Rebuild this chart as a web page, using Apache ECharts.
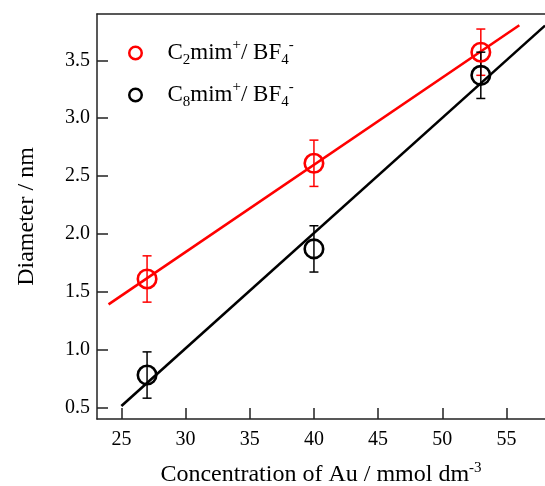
<!DOCTYPE html>
<html>
<head>
<meta charset="utf-8">
<script src="https://cdn.jsdelivr.net/npm/echarts@6/dist/echarts.min.js"></script>
<style>
html,body{margin:0;padding:0;background:#fff;}
#chart{width:545px;height:486px;}
</style>
</head>
<body>
<div id="chart"></div>
<script>
// ---- data ----
const xTicks = [25, 30, 35, 40, 45, 50, 55];
const yTicks = [0.5, 1.0, 1.5, 2.0, 2.5, 3.0, 3.5];
const conc = [27, 40, 53];
const diamC2 = [1.61, 2.61, 3.57];
const diamC8 = [0.78, 1.87, 3.37];
const errC2 = [0.2, 0.2, 0.2];
const errC8 = [0.2, 0.2, 0.2];
const fitRangeC2 = [24, 56];
const fitRangeC8 = [25, 58];
const seriesNames = ['C2mim+/ BF4-', 'C8mim+/ BF4-'];
const legendLabels = ['C{sub|2}mim{sup|+}/ BF{sub|4}{sup|-}', 'C{sub|8}mim{sup|+}/ BF{sub|4}{sup|-}'];
const xTitle = 'Concentration of Au / mmol dm{sup|-3}';
const yTitle = 'Diameter / nm';

const RED = '#ff0000';
const BLACK = '#000000';
const FONT = 'Liberation Serif';

function fit(xs, ys) {
  const n = xs.length;
  const mx = xs.reduce((a, b) => a + b, 0) / n;
  const my = ys.reduce((a, b) => a + b, 0) / n;
  let sxy = 0, sxx = 0;
  for (let i = 0; i < n; i++) { sxy += (xs[i] - mx) * (ys[i] - my); sxx += (xs[i] - mx) ** 2; }
  const k = sxy / sxx;
  return x => my + k * (x - mx);
}
const fC2 = fit(conc, diamC2);
const fC8 = fit(conc, diamC8);
const lineC2 = fitRangeC2.map(x => [x, fC2(x)]);
const lineC8 = fitRangeC8.map(x => [x, fC8(x)]);

function errData(xs, ys, es) { return xs.map((x, i) => [x, ys[i] - es[i], ys[i] + es[i]]); }

function errRender(color) {
  return function (params, api) {
    const lo = api.coord([api.value(0), api.value(1)]);
    const hi = api.coord([api.value(0), api.value(2)]);
    const w = 4.5;
    const st = { stroke: color, lineWidth: 1.5 };
    return {
      type: 'group',
      children: [
        { type: 'line', shape: { x1: lo[0], y1: lo[1], x2: hi[0], y2: hi[1] }, style: st },
        { type: 'line', shape: { x1: lo[0] - w, y1: lo[1], x2: lo[0] + w, y2: lo[1] }, style: st },
        { type: 'line', shape: { x1: hi[0] - w, y1: hi[1], x2: hi[0] + w, y2: hi[1] }, style: st }
      ]
    };
  };
}

const chart = echarts.init(document.getElementById('chart'), null, { renderer: 'canvas' });
const axisLine = { show: true, lineStyle: { color: '#222', width: 1.5 } };

chart.setOption({
  animation: false,
  backgroundColor: '#fff',
  textStyle: { fontFamily: FONT },
  grid: { left: 97, right: 0, top: 14, bottom: 67, containLabel: false, outerBoundsMode: 'none' },
  legend: {
    orient: 'vertical',
    left: 128,
    top: 38,
    padding: 0,
    itemGap: 12,
    itemWidth: 14,
    itemHeight: 12.5,
    selectedMode: false,
    data: [
      { name: seriesNames[0], icon: 'circle', itemStyle: { color: 'rgba(0,0,0,0)', borderColor: RED, borderWidth: 2.5 } },
      { name: seriesNames[1], icon: 'circle', itemStyle: { color: 'rgba(0,0,0,0)', borderColor: BLACK, borderWidth: 2.5 } }
    ],
    formatter: name => legendLabels[seriesNames.indexOf(name)],
    textStyle: {
      fontFamily: FONT, fontSize: 23, lineHeight: 30, color: '#000',
      padding: [0, 0, 0, 20],
      rich: {
        sub: { fontFamily: FONT, fontSize: 15, lineHeight: 16, verticalAlign: 'bottom', color: '#000' },
        sup: { fontFamily: FONT, fontSize: 15, lineHeight: 16, verticalAlign: 'top', color: '#000' }
      }
    }
  },
  xAxis: [{
    type: 'value',
    min: 23.1,
    max: 58,
    position: 'bottom',
    axisLine: axisLine,
    axisTick: { show: true, inside: true, length: 11, customValues: xTicks, lineStyle: { color: '#222', width: 1.5 } },
    axisLabel: { customValues: xTicks, margin: 11, fontFamily: FONT, fontSize: 20, color: '#000' },
    splitLine: { show: false },
    name: xTitle,
    nameLocation: 'middle',
    nameGap: 42,
    nameTextStyle: {
      fontFamily: FONT, fontSize: 24, lineHeight: 28, color: '#000',
      rich: { sup: { fontFamily: FONT, fontSize: 15, lineHeight: 14, verticalAlign: 'top', color: '#000' } }
    }
  }, {
    type: 'value',
    min: 23.1,
    max: 58,
    position: 'top',
    axisLine: axisLine,
    axisTick: { show: false },
    axisLabel: { show: false },
    splitLine: { show: false }
  }],
  yAxis: {
    type: 'value',
    min: 0.4,
    max: 3.9,
    axisLine: axisLine,
    axisTick: { show: true, inside: true, length: 11, customValues: yTicks, lineStyle: { color: '#222', width: 1.5 } },
    axisLabel: { customValues: yTicks, margin: 7, fontFamily: FONT, fontSize: 20, color: '#000', formatter: v => v.toFixed(1) },
    splitLine: { show: false },
    name: yTitle,
    nameLocation: 'middle',
    nameGap: 58,
    nameTextStyle: { fontFamily: FONT, fontSize: 24, color: '#000' }
  },
  series: [
    { name: 'fitC2', type: 'line', data: lineC2, symbol: 'none', lineStyle: { color: RED, width: 2.6 }, z: 2, silent: true },
    { name: 'fitC8', type: 'line', data: lineC8, symbol: 'none', lineStyle: { color: BLACK, width: 2.6 }, z: 2, silent: true },
    { name: 'errC2', type: 'custom', data: errData(conc, diamC2, errC2), renderItem: errRender(RED), z: 3, silent: true },
    { name: 'errC8', type: 'custom', data: errData(conc, diamC8, errC8), renderItem: errRender(BLACK), z: 3, silent: true },
    {
      name: seriesNames[0], type: 'scatter', data: conc.map((x, i) => [x, diamC2[i]]),
      symbol: 'circle', symbolSize: 18.5,
      itemStyle: { color: 'rgba(0,0,0,0)', borderColor: RED, borderWidth: 2.6, opacity: 1 }, z: 4
    },
    {
      name: seriesNames[1], type: 'scatter', data: conc.map((x, i) => [x, diamC8[i]]),
      symbol: 'circle', symbolSize: 18.5,
      itemStyle: { color: 'rgba(0,0,0,0)', borderColor: BLACK, borderWidth: 2.6, opacity: 1 }, z: 4
    }
  ]
});
</script>
</body>
</html>
